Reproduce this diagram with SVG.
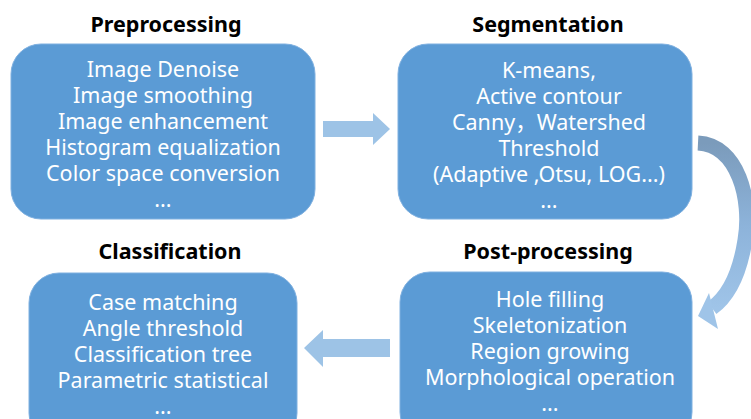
<svg xmlns="http://www.w3.org/2000/svg" width="751" height="419" viewBox="0 0 751 419">
<defs>
<style>
.box{fill:#5b9bd5;stroke:#7fb0e0;stroke-width:1}
.title{font-family:"Noto Sans","Liberation Sans","Noto Sans CJK SC",sans-serif;font-weight:bold;font-size:21.5px;fill:#000;text-anchor:middle}
.body{font-family:"Noto Sans","Liberation Sans","Noto Sans CJK SC",sans-serif;font-size:21.5px;fill:#fff;text-anchor:middle}
.arr{fill:#9dc3e6}
</style>
<linearGradient id="cg" x1="0" y1="0" x2="0" y2="1">
<stop offset="0" stop-color="#7b9bbb"/>
<stop offset="0.5" stop-color="#8db3da"/>
<stop offset="1" stop-color="#9fc4e8"/>
</linearGradient>
</defs>
<rect width="751" height="419" fill="#fff"/>
<g id="preprocessing">
<rect class="box" x="11" y="44" width="304" height="175" rx="30"/>
<text class="title" x="166" y="32">Preprocessing</text>
<text class="body" x="163" y="77">Image Denoise</text>
<text class="body" x="163" y="103">Image smoothing</text>
<text class="body" x="163" y="129">Image enhancement</text>
<text class="body" x="163" y="155">Histogram equalization</text>
<text class="body" x="163" y="181">Color space conversion</text>
<text class="body" x="163" y="207">...</text>
</g>
<g id="segmentation">
<rect class="box" x="398" y="44" width="294" height="175" rx="30"/>
<text class="title" x="548" y="32">Segmentation</text>
<text class="body" x="549" y="78">K-means,</text>
<text class="body" x="549" y="104">Active contour</text>
<text class="body" x="549" y="130">Canny<tspan font-family="Noto Sans CJK SC">，</tspan>Watershed</text>
<text class="body" x="549" y="156">Threshold</text>
<text class="body" x="549" y="182">(Adaptive ,Otsu, LOG...)</text>
<text class="body" x="549" y="208">...</text>
</g>
<g id="classification">
<rect class="box" x="29" y="273" width="268" height="170" rx="30"/>
<text class="title" x="170" y="259">Classification</text>
<text class="body" x="163" y="310">Case matching</text>
<text class="body" x="163" y="336">Angle threshold</text>
<text class="body" x="163" y="362">Classification tree</text>
<text class="body" x="163" y="388">Parametric statistical</text>
<text class="body" x="163" y="414">...</text>
</g>
<g id="postprocessing">
<rect class="box" x="400" y="272" width="292" height="170" rx="30"/>
<text class="title" x="548" y="259">Post-processing</text>
<text class="body" x="550" y="307">Hole filling</text>
<text class="body" x="550" y="333">Skeletonization</text>
<text class="body" x="550" y="359">Region growing</text>
<text class="body" x="550" y="385">Morphological operation</text>
<text class="body" x="550" y="411">...</text>
</g>
<g id="connectors">
<polygon class="arr" points="323,121 373,121 373,113 390,129 373,145 373,137 323,137"/>
<polygon class="arr" points="390,339 323,339 323,330 304,348 323,367 323,357 390,357"/>
<path d="M698,143 C738,145 752,200 745,240 C740,272 730,295 712,308" fill="none" stroke="url(#cg)" stroke-width="15"/>
<polygon points="698,316 709,293 718,329" fill="#9fc4e8"/>
</g>
</svg>
